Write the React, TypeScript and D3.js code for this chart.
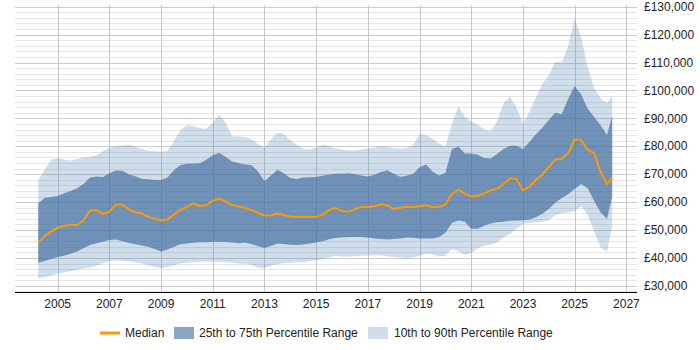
import { useEffect, useRef } from "react";
import * as d3 from "d3";

// quarterly sample points (decimal years)
const years = [
  2004.25, 2004.5, 2004.75,
  2005, 2005.25, 2005.5, 2005.75,
  2006, 2006.25, 2006.5, 2006.75,
  2007, 2007.25, 2007.5, 2007.75,
  2008, 2008.25, 2008.5, 2008.75,
  2009, 2009.25, 2009.5, 2009.75,
  2010, 2010.25, 2010.5, 2010.75,
  2011, 2011.25, 2011.5, 2011.75,
  2012, 2012.25, 2012.5, 2012.75,
  2013, 2013.25, 2013.5, 2013.75,
  2014, 2014.25, 2014.5, 2014.75,
  2015, 2015.25, 2015.5, 2015.75,
  2016, 2016.25, 2016.5, 2016.75,
  2017, 2017.25, 2017.5, 2017.75,
  2018, 2018.25, 2018.5, 2018.75,
  2019, 2019.25, 2019.5, 2019.75,
  2020, 2020.25, 2020.5, 2020.75,
  2021, 2021.25, 2021.5, 2021.75,
  2022, 2022.25, 2022.5, 2022.75,
  2023, 2023.25, 2023.5, 2023.75,
  2024, 2024.25, 2024.5, 2024.75,
  2025, 2025.25, 2025.5, 2025.75,
  2026, 2026.25, 2026.45,
];

// salaries in £ thousands
const median = [
  45.4, 47.8, 49.5,
  50.8, 51.5, 51.8, 51.8,
  53.5, 57, 57.2, 55.7,
  56.5, 59.2, 59.1, 57.5,
  56.3, 56, 54.8, 54,
  53.5, 53.8, 55.5, 57.2,
  58.3, 59.5, 58.6, 58.9,
  60.5, 61.3, 60.2, 59,
  58.4, 57.9, 57.2, 56.2,
  55.2, 55.3, 55.9, 55.4,
  54.8, 54.7, 54.7, 54.7,
  54.7, 55.5, 57.2, 57.9,
  56.8, 56.5, 57.5, 58.3,
  58.2, 58.5, 59.3, 58.8,
  57.5, 58, 58.3, 58.2,
  58.5, 58.9, 58.2, 58.3,
  59.2, 63, 64.5, 63,
  62, 62.3, 63, 64.2,
  64.8, 66.5, 68.6, 68.2,
  64.2, 65.5, 67.9, 69.8,
  72.5, 75.3, 75.5, 77.5,
  82.5, 82.2, 78.8, 77.5,
  71, 66.5, 68.7,
];

const p25 = [
  38.3, 38.9, 39.6,
  40.3, 40.8, 41.5, 42.3,
  43.5, 44.6, 45.3, 45.8,
  46.4, 46.6, 46, 45.4,
  44.9, 44.5, 44, 43.2,
  42.3, 43, 44, 44.9,
  45.2, 45.4, 45.6, 45.6,
  45.8, 45.8, 45.7, 45.5,
  45.3, 45.4, 45, 44.2,
  43.6, 44.3, 45.2, 45,
  44.7, 44.6, 44.8, 45.2,
  45.5, 46, 46.7, 47.1,
  47.3, 47.5, 47.5, 47.5,
  47.3, 47, 46.8, 46.6,
  46.8, 47, 47.3, 47.2,
  47, 47, 47, 47.5,
  49, 52.5, 53.4, 53,
  50.5, 50.5, 51.5, 52.3,
  52.8, 53, 53.3, 53.4,
  53.5, 53.8, 54.6, 55.8,
  57.5, 59.8, 61.5, 62.8,
  64.8, 66.5, 65, 60.5,
  56.3, 54, 62,
];

const p75 = [
  59.5, 61.5, 61.8,
  62.2, 63.2, 64, 65,
  66.5, 68.8, 69.2, 69,
  70.3, 71.3, 71.2, 70,
  69.3, 68.4, 68.2, 67.9,
  67.9, 68.8, 71.5, 73.3,
  73.7, 73.8, 73.9, 75.2,
  76.8, 77.7, 76.2, 74.5,
  74, 73.5, 73.2, 71,
  67.5, 69.5, 71.6, 70.3,
  68.6, 68.3, 68.8, 68.9,
  69, 69.5, 69.8, 70.2,
  70.2, 70.3, 70, 69.5,
  69.2, 69.8, 70.8, 71.4,
  70.2, 69.1, 69.4, 70.2,
  72.5, 73.5, 71, 69.5,
  70.5, 79, 79.8, 77.4,
  77.4, 77, 75.8, 75.6,
  77.2, 79, 80.2, 80.2,
  79, 81.5, 84.3, 86.6,
  89.5, 92, 91.5, 97,
  101.5, 98.5, 93.5, 90.5,
  87.5, 84, 91,
];

const p10 = [
  32.6, 33.2, 33.8,
  34.3, 34.8, 35.2, 35.7,
  36.2, 36.6, 37.2, 38,
  38.8, 39.2, 39, 38.8,
  38.5, 38, 37.4, 36.8,
  36.2, 36.8, 37.4, 38,
  38.3, 38.5, 38.6, 38.6,
  38.6, 38.6, 38.5, 38.3,
  38, 37.8, 37.5, 36.5,
  36.4, 37.2, 37.8, 38.1,
  38.2, 38.5, 38.5, 38.8,
  39.2, 39.6, 40.2, 40.8,
  40.5, 40.4, 40.6, 40.8,
  40.9, 41, 41, 40.6,
  40.3, 40.2, 39.8, 40.2,
  40.8, 41.5, 41.2, 40.6,
  40.8, 43.2, 42.5, 41,
  41.8, 43.5, 44.5, 44.8,
  45.5, 47.3, 48.6, 50.5,
  52.3, 52.5, 52.8, 53,
  53.5, 55.5, 56, 56.3,
  56.8, 58.5, 55.5, 49.5,
  43.8, 42.2, 51.5,
];

const p90 = [
  67.9, 71.5, 75.2,
  75.8, 75.3, 74.8, 75.4,
  76, 76.2, 76.8, 78.2,
  79.5, 80, 80.3, 80.5,
  79.8, 79, 78.4, 78.2,
  78, 78.3, 81.8, 85.8,
  87.5, 87.3, 86.5, 86.3,
  88.5, 91.2, 88.5, 83.5,
  83.6, 83.3, 82.5, 80.8,
  79.6, 82.5, 84.8, 84.4,
  82.2, 80.5, 79.2, 78.8,
  79.6, 80.5, 80.2, 79.2,
  78.8, 78.5, 78.5, 78.8,
  79.2, 79.5, 80, 79.7,
  79.3, 79.2, 79.3, 80.5,
  84.5, 84, 82.8, 81,
  79.8, 88, 94.4, 90.5,
  88.8, 87.8, 86, 85.5,
  89, 95.5, 97.8, 94,
  88, 92.5, 97.5, 102.3,
  105.5, 110.3, 110, 116,
  125.8, 119, 108.5, 101,
  97.2, 95.5, 98.2,
];

const xTicks = [2005, 2007, 2009, 2011, 2013, 2015, 2017, 2019, 2021, 2023, 2025, 2027];
const yTicks = [30000, 40000, 50000, 60000, 70000, 80000, 90000, 100000, 110000, 120000, 130000];
const legendLabels = ["Median", "25th to 75th Percentile Range", "10th to 90th Percentile Range"];

const W = 700;
const H = 350;
const FONT = "'Liberation Sans', Arial, sans-serif";

export default function App() {
  const ref = useRef<SVGSVGElement>(null);

  useEffect(() => {
    const svg = d3.select(ref.current);
    svg.selectAll("*").remove();

    const left = 15, right = 637, top = 5, bottom = 292;
    const x = d3.scaleLinear().domain([2003.35, 2027.41]).range([left, right]);
    const y = d3.scaleLinear().domain([27800, 130600]).range([bottom, top]);

    const rows = years.map((yr, i) => ({
      yr,
      med: median[i] * 1000,
      q1: p25[i] * 1000,
      q3: p75[i] * 1000,
      lo: p10[i] * 1000,
      hi: p90[i] * 1000,
    }));

    // minor + major horizontal grid
    const minor = d3.range(28000, 130001, 2000);
    svg.append("g")
      .selectAll("line")
      .data(minor)
      .join("line")
      .attr("x1", left)
      .attr("x2", right)
      .attr("y1", (d) => Math.round(y(d)) + 0.5)
      .attr("y2", (d) => Math.round(y(d)) + 0.5)
      .attr("stroke", (d) => (d % 10000 === 0 ? "#cccccc" : "#e6e6e6"))
      .attr("stroke-width", 1);

    // vertical grid
    svg.append("g")
      .selectAll("line")
      .data(xTicks)
      .join("line")
      .attr("x1", (d) => Math.round(x(d)) + 0.5)
      .attr("x2", (d) => Math.round(x(d)) + 0.5)
      .attr("y1", top)
      .attr("y2", bottom)
      .attr("stroke", "#c8c8c8");

    const outer = d3.area<any>()
      .x((d) => x(d.yr))
      .y0((d) => y(d.lo))
      .y1((d) => y(d.hi));
    const inner = d3.area<any>()
      .x((d) => x(d.yr))
      .y0((d) => y(d.q1))
      .y1((d) => y(d.q3));
    const line = d3.line<any>()
      .x((d) => x(d.yr))
      .y((d) => y(d.med));

    svg.append("path").attr("d", outer(rows)).attr("fill", "#4a7bb0").attr("fill-opacity", 0.26);
    svg.append("path").attr("d", inner(rows)).attr("fill", "#3d6a9c").attr("fill-opacity", 0.65);
    svg.append("path")
      .attr("d", line(rows))
      .attr("fill", "none")
      .attr("stroke", "#ff9900")
      .attr("stroke-width", 2)
      .attr("stroke-linejoin", "round");

    // x axis line
    svg.append("line")
      .attr("x1", left)
      .attr("x2", right)
      .attr("y1", bottom + 0.5)
      .attr("y2", bottom + 0.5)
      .attr("stroke", "#000");

    svg.append("g")
      .selectAll("text")
      .data(xTicks)
      .join("text")
      .attr("x", (d) => x(d))
      .attr("y", bottom + 16)
      .attr("text-anchor", "middle")
      .attr("font-family", FONT)
      .attr("font-size", 12)
      .attr("fill", "#222")
      .text((d) => String(d));

    svg.append("g")
      .selectAll("text")
      .data(yTicks)
      .join("text")
      .attr("x", 644)
      .attr("y", (d) => y(d))
      .attr("dy", "0.35em")
      .attr("font-family", FONT)
      .attr("font-size", 12)
      .attr("fill", "#222")
      .text((d) => "£" + d3.format(",")(d));

    // legend
    const lg = svg.append("g").attr("font-family", FONT).attr("font-size", 12).attr("fill", "#222");
    const ly = 333;
    lg.append("line").attr("x1", 100).attr("x2", 120).attr("y1", ly).attr("y2", ly)
      .attr("stroke", "#ff9900").attr("stroke-width", 3);
    lg.append("text").attr("x", 125).attr("y", ly).attr("dy", "0.35em").text(legendLabels[0]);
    lg.append("rect").attr("x", 174).attr("y", ly - 6).attr("width", 20).attr("height", 12)
      .attr("fill", "#3d6a9c").attr("fill-opacity", 0.6);
    lg.append("text").attr("x", 199).attr("y", ly).attr("dy", "0.35em").text(legendLabels[1]);
    lg.append("rect").attr("x", 368).attr("y", ly - 6).attr("width", 20).attr("height", 12)
      .attr("fill", "#4a7bb0").attr("fill-opacity", 0.26);
    lg.append("text").attr("x", 394).attr("y", ly).attr("dy", "0.35em").text(legendLabels[2]);
  }, []);

  return (
    <svg
      ref={ref}
      width={W}
      height={H}
      viewBox={`0 0 ${W} ${H}`}
      style={{ position: "absolute", left: 0, top: 0, background: "#fff" }}
    />
  );
}
